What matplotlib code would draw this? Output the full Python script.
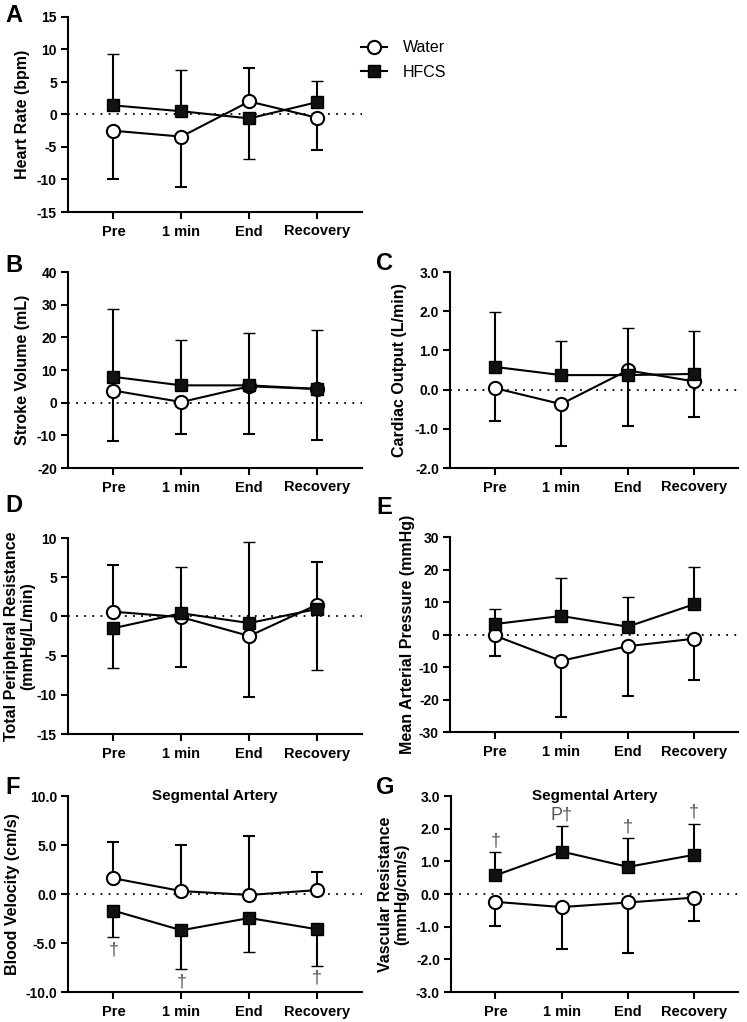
import numpy as np
import matplotlib
matplotlib.use('Agg')
import matplotlib.pyplot as plt
from matplotlib.ticker import FormatStrFormatter, MultipleLocator
from matplotlib.lines import Line2D

plt.rcParams['font.family'] = ['Liberation Sans', 'DejaVu Sans']
plt.rcParams['axes.unicode_minus'] = False

# ---- data (mean change, error bar length, bar direction +1 up / -1 down)
times = ['Pre', '1 min', 'End', 'Recovery']

hr_water = [-2.5, -3.4, 2.0, -0.5]
hr_water_sd = [7.5, 7.7, 5.2, 4.9]
hr_water_dir = [-1, -1, 1, -1]
hr_hfcs = [1.4, 0.5, -0.6, 1.9]
hr_hfcs_sd = [7.9, 6.3, 6.3, 3.3]
hr_hfcs_dir = [1, 1, -1, 1]

sv_water = [3.7, 0.2, 5.0, 4.2]
sv_water_sd = [15.4, 9.8, 14.6, 15.5]
sv_water_dir = [-1, -1, -1, -1]
sv_hfcs = [7.9, 5.3, 5.3, 4.2]
sv_hfcs_sd = [20.9, 13.9, 16.0, 17.9]
sv_hfcs_dir = [1, 1, 1, 1]

co_water = [0.04, -0.37, 0.49, 0.21]
co_water_sd = [0.85, 1.08, 1.41, 0.92]
co_water_dir = [-1, -1, -1, -1]
co_hfcs = [0.58, 0.37, 0.37, 0.40]
co_hfcs_sd = [1.39, 0.86, 1.19, 1.09]
co_hfcs_dir = [1, 1, 1, 1]

tpr_water = [0.6, -0.1, -2.5, 1.5]
tpr_water_sd = [5.9, 6.3, 7.8, 5.5]
tpr_water_dir = [1, -1, -1, 1]
tpr_hfcs = [-1.5, 0.4, -0.85, 0.95]
tpr_hfcs_sd = [5.1, 5.9, 10.3, 7.75]
tpr_hfcs_dir = [-1, 1, 1, -1]

map_water = [-0.3, -8.1, -3.6, -1.3]
map_water_sd = [6.4, 17.2, 15.3, 12.8]
map_water_dir = [-1, -1, -1, -1]
map_hfcs = [3.2, 5.7, 2.4, 9.3]
map_hfcs_sd = [4.7, 11.6, 9.2, 11.5]
map_hfcs_dir = [1, 1, 1, 1]

bv_water = [1.6, 0.3, -0.1, 0.4]
bv_water_sd = [3.7, 4.65, 6.0, 1.8]
bv_water_dir = [1, 1, 1, 1]
bv_hfcs = [-1.7, -3.7, -2.45, -3.6]
bv_hfcs_sd = [2.7, 3.95, 3.5, 3.7]
bv_hfcs_dir = [-1, -1, -1, -1]
bv_marks = ['\u2020', '\u2020', '', '\u2020']

vr_water = [-0.24, -0.4, -0.26, -0.11]
vr_water_sd = [0.75, 1.27, 1.55, 0.73]
vr_water_dir = [-1, -1, -1, -1]
vr_hfcs = [0.57, 1.3, 0.83, 1.2]
vr_hfcs_sd = [0.71, 0.77, 0.89, 0.95]
vr_hfcs_dir = [1, 1, 1, 1]
vr_marks = ['\u2020', 'P\u2020', '\u2020', '\u2020']

W, H = 747., 1022.
fig = plt.figure(figsize=(W/100, H/100), dpi=100)
LW = 1.5

def rect(l, top, r, bot):
    return [l/W, (H-bot)/H, (r-l)/W, (bot-top)/H]

def yerr(sd, d):
    sd = np.array(sd); d = np.array(d)
    lo = np.where(d < 0, sd, 0)
    hi = np.where(d > 0, sd, 0)
    return [lo, hi]

def panel(r, water, wsd, wdir, hfcs, hsd, hdir, ylim, step, ylabel, lx, fmt=None):
    ax = fig.add_axes(r)
    x = np.arange(len(times))
    ax.axhline(0, color='black', lw=1.3, ls=(0, (1, 3.5)), zorder=1)
    ax.errorbar(x, water, yerr=yerr(wsd, wdir), color='black', lw=LW,
                marker='o', ms=9.5, mfc='white', mec='black', mew=1.5,
                capsize=4.5, capthick=LW, elinewidth=LW, zorder=3)
    ax.errorbar(x, hfcs, yerr=yerr(hsd, hdir), color='black', lw=LW,
                marker='s', ms=8, mfc='#111111', mec='black', mew=1.0,
                capsize=4.5, capthick=LW, elinewidth=LW, zorder=4)
    ax.set_xlim(-0.67, 3.66)
    ax.set_ylim(*ylim)
    ax.yaxis.set_major_locator(MultipleLocator(step))
    if fmt:
        ax.yaxis.set_major_formatter(FormatStrFormatter(fmt))
    ax.set_xticks(x)
    ax.set_xticklabels(times, fontsize=10.5, fontweight='bold')
    for t in ax.get_yticklabels():
        t.set_fontweight('bold')
        t.set_fontsize(10)
    ax.tick_params(axis='both', width=1.5, length=5, pad=3)
    ax.tick_params(axis='x', pad=4)
    for s in ['top', 'right']:
        ax.spines[s].set_visible(False)
    for s in ['left', 'bottom']:
        ax.spines[s].set_linewidth(1.5)
    ax.set_ylabel(ylabel, fontsize=11.5, fontweight='bold', va='center',
                  linespacing=1.15)
    ax.yaxis.set_label_coords(lx, 0.5)
    return ax

axA = panel(rect(68, 17, 362, 212), hr_water, hr_water_sd, hr_water_dir,
            hr_hfcs, hr_hfcs_sd, hr_hfcs_dir, (-15, 15), 5, 'Heart Rate (bpm)', -0.155)
axB = panel(rect(68, 272, 362, 468), sv_water, sv_water_sd, sv_water_dir,
            sv_hfcs, sv_hfcs_sd, sv_hfcs_dir, (-20, 40), 10, 'Stroke Volume (mL)', -0.155)
axC = panel(rect(450, 272, 738, 468), co_water, co_water_sd, co_water_dir,
            co_hfcs, co_hfcs_sd, co_hfcs_dir, (-2, 3), 1, 'Cardiac Output (L/min)', -0.175, '%.1f')
axD = panel(rect(68, 538, 362, 734), tpr_water, tpr_water_sd, tpr_water_dir,
            tpr_hfcs, tpr_hfcs_sd, tpr_hfcs_dir, (-15, 10), 5,
            'Total Peripheral Resistance\n(mmHg/L/min)', -0.165)
axE = panel(rect(450, 537, 738, 732), map_water, map_water_sd, map_water_dir,
            map_hfcs, map_hfcs_sd, map_hfcs_dir, (-30, 30), 10,
            'Mean Arterial Pressure (mmHg)', -0.148)
axF = panel(rect(68, 796, 362, 992), bv_water, bv_water_sd, bv_water_dir,
            bv_hfcs, bv_hfcs_sd, bv_hfcs_dir, (-10, 10), 5,
            'Blood Velocity (cm/s)', -0.19, '%.1f')
axG = panel(rect(451, 796, 738, 992), vr_water, vr_water_sd, vr_water_dir,
            vr_hfcs, vr_hfcs_sd, vr_hfcs_dir, (-3, 3), 1,
            'Vascular Resistance\n(mmHg/cm/s)', -0.2, '%.1f')

for ax in (axF, axG):
    ax.text(0.5, 1.0, 'Segmental Artery', transform=ax.transAxes, ha='center',
            va='center', fontsize=11, fontweight='bold')

# significance marks
for i, m in enumerate(bv_marks):
    if m:
        ax_y = bv_hfcs[i] - bv_hfcs_sd[i]
        axF.annotate(m, (i, ax_y), xytext=(0, -3), textcoords='offset points',
                     ha='center', va='top', fontsize=13, color='#555555')
for i, m in enumerate(vr_marks):
    if m:
        ax_y = vr_hfcs[i] + vr_hfcs_sd[i]
        axG.annotate(m, (i, ax_y), xytext=(0, 2), textcoords='offset points',
                     ha='center', va='bottom', fontsize=13, color='#555555')

# panel letters
for lab, px, py in [('A', 5, 15), ('B', 5, 265), ('C', 376, 264), ('D', 5, 506),
                    ('E', 376, 507), ('F', 5, 788), ('G', 376, 788)]:
    fig.text(px/W, 1-py/H, lab, fontsize=17, fontweight='bold', ha='left', va='center')

# legend
h1 = Line2D([], [], color='black', lw=LW, marker='o', ms=9.5, mfc='white', mec='black', mew=1.5)
h2 = Line2D([], [], color='black', lw=LW, marker='s', ms=8, mfc='#111111', mec='black')
fig.legend([h1, h2], ['Water', 'HFCS'], loc='center left', bbox_to_anchor=(361/W, 1-60/H),
           frameon=False, fontsize=11.5, handlelength=1.6, handletextpad=1.0,
           labelspacing=0.6, borderpad=0, borderaxespad=0)

fig.savefig('out.png', dpi=100)
